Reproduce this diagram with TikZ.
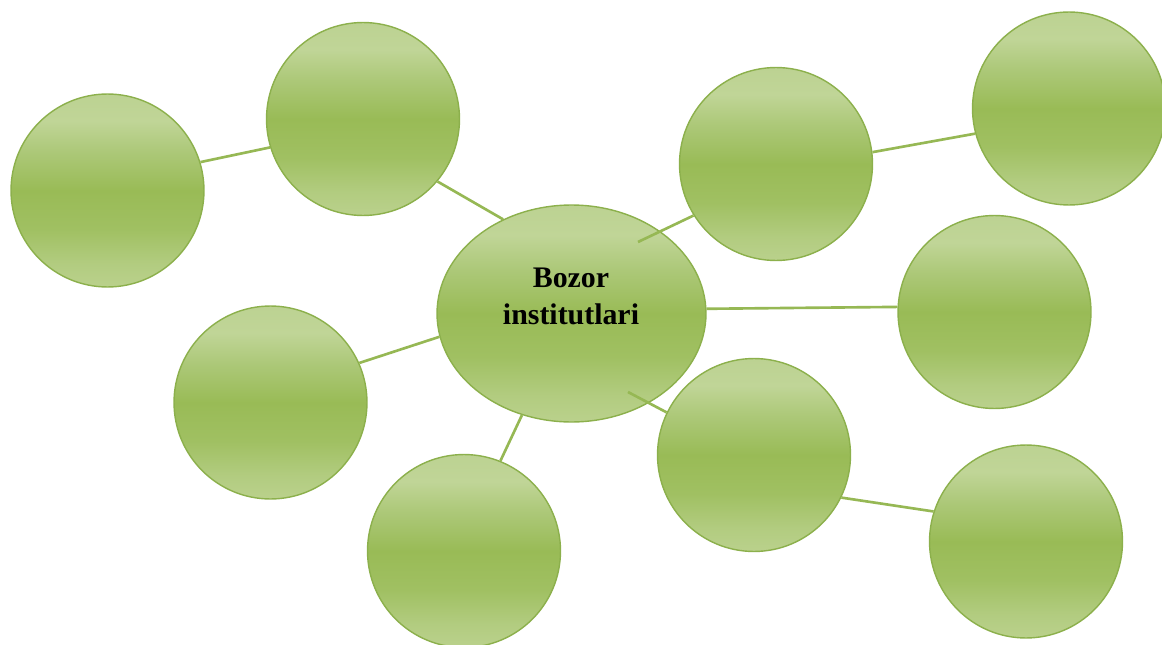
\documentclass[tikz,border=0pt]{standalone}
\usepackage{fontspec}
\setmainfont{Liberation Serif}
\usetikzlibrary{shapes.geometric}
\definecolor{gT}{RGB}{188,210,146}
\definecolor{gHi}{RGB}{192,213,151}
\definecolor{gU}{RGB}{172,200,120}
\definecolor{gM}{RGB}{153,187,86}
\definecolor{gL}{RGB}{160,192,98}
\definecolor{gB1}{RGB}{178,204,128}
\definecolor{gB}{RGB}{186,209,140}
\definecolor{gEdge}{RGB}{140,176,76}
\definecolor{gLine}{RGB}{150,184,84}
\pgfdeclareverticalshading{glossy}{100bp}{color(0bp)=(gB); color(25bp)=(gB); color(31bp)=(gB1); color(40bp)=(gL); color(50bp)=(gM); color(60bp)=(gU); color(68bp)=(gHi); color(75bp)=(gT); color(100bp)=(gT)}
\tikzset{
  ball/.style={circle, minimum size=3.86cm, inner sep=0pt, draw=gEdge, line width=0.8pt, shading=glossy},
  hub/.style={ellipse, minimum width=5.38cm, minimum height=4.34cm, inner sep=0pt, draw=gEdge, line width=0.8pt, shading=glossy},
  link/.style={draw=gLine, line width=1.5pt},
  hubtext/.style={font=\bfseries\fontsize{17}{21}\selectfont, align=center, text=black, inner sep=0pt}
}
\begin{document}
\begin{tikzpicture}[x=0.02cm, y=-0.02cm]
\useasboundingbox[fill=white] (0,0) rectangle (1162,645);
\node[ball] (n1) at (107.5,190.5) {};
\node[ball] (n2) at (363,119) {};
\node[hub] (e) at (571.5,313.5) {};
\node[ball] (n4) at (776,164) {};
\node[ball] (n5) at (1069,108.5) {};
\node[ball] (n6) at (994.5,312) {};
\node[ball] (n7) at (270.5,402.5) {};
\node[ball] (n8) at (464,551) {};
\node[ball] (n9) at (754,455) {};
\node[ball] (n10) at (1026,541.5) {};
\node[hubtext] (t) at (571,296.5) {Bozor\\institutlari};
\coordinate (e4in) at (638,242);
\coordinate (e9in) at (628,392);
\draw[link] (n1.17.7) -- (n2.197.9);
\draw[link] (n2.-40.9) -- (e.126.3);
\draw[link] (e4in) -- (n4.212.2);
\draw[link] (n4.7.6) -- (n5.195.9);
\draw[link] (e.2.7) -- (n6.177.1);
\draw[link] (e.190) -- (n7.24.3);
\draw[link] (e.244.4) -- (n8.68.5);
\draw[link] (e9in) -- (n9.154.4);
\draw[link] (n9.-26.3) -- (n10.162.4);
\end{tikzpicture}
\end{document}
